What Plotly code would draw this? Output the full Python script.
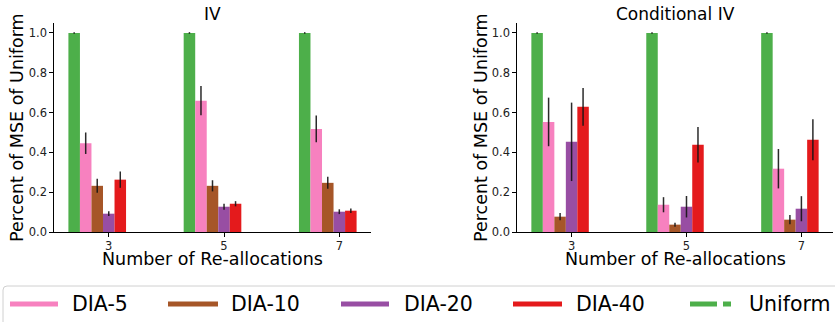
import plotly.graph_objects as go

W, H = 835, 322

groups = [3, 5, 7]
series_names = ["Uniform", "DIA-5", "DIA-10", "DIA-20", "DIA-40"]
series_colors = ["#4daf4a", "#f781bf", "#a65628", "#984ea3", "#e41a1c"]

# IV panel
iv_uniform = [1.0, 1.0, 1.0]
iv_uniform_err = [0.004, 0.004, 0.004]
iv_dia5 = [0.446, 0.660, 0.518]
iv_dia5_err = [0.054, 0.074, 0.067]
iv_dia10 = [0.232, 0.232, 0.247]
iv_dia10_err = [0.035, 0.028, 0.030]
iv_dia20 = [0.092, 0.127, 0.102]
iv_dia20_err = [0.012, 0.015, 0.012]
iv_dia40 = [0.263, 0.142, 0.107]
iv_dia40_err = [0.041, 0.013, 0.011]

# Conditional IV panel
civ_uniform = [1.0, 1.0, 1.0]
civ_uniform_err = [0.004, 0.004, 0.004]
civ_dia5 = [0.553, 0.137, 0.318]
civ_dia5_err = [0.122, 0.038, 0.099]
civ_dia10 = [0.077, 0.037, 0.062]
civ_dia10_err = [0.018, 0.010, 0.023]
civ_dia20 = [0.453, 0.127, 0.117]
civ_dia20_err = [0.197, 0.054, 0.063]
civ_dia40 = [0.629, 0.438, 0.463]
civ_dia40_err = [0.095, 0.089, 0.103]

y_ticks = [0.0, 0.2, 0.4, 0.6, 0.8, 1.0]
panel_titles = ["IV", "Conditional IV"]
x_title = "Number of Re-allocations"
y_title = "Percent of MSE of Uniform"

FONT = "DejaVu Sans"
BAR_W = 0.2
offsets = [-0.7, -0.5, -0.3, -0.1, 0.1]

fig = go.Figure()

panels = [
    ("x", "y", [iv_uniform, iv_dia5, iv_dia10, iv_dia20, iv_dia40],
     [iv_uniform_err, iv_dia5_err, iv_dia10_err, iv_dia20_err, iv_dia40_err]),
    ("x2", "y2", [civ_uniform, civ_dia5, civ_dia10, civ_dia20, civ_dia40],
     [civ_uniform_err, civ_dia5_err, civ_dia10_err, civ_dia20_err, civ_dia40_err]),
]

for xa, ya, vals, errs in panels:
    for name, color, off, v, e in zip(series_names, series_colors, offsets, vals, errs):
        fig.add_trace(go.Bar(
            x=groups, y=v, name=name, xaxis=xa, yaxis=ya,
            width=BAR_W, offset=off,
            marker=dict(color=color, line=dict(width=0)),
            error_y=dict(type="data", array=e, visible=True,
                         color="rgba(20,20,20,0.9)", thickness=1.5, width=0),
            showlegend=False,
        ))

def px_x(p):
    return p / W

def px_y(p):
    return 1 - p / H

ax_common = dict(showgrid=False, zeroline=False, showline=True, linecolor="black",
                 linewidth=1.2, ticks="outside", ticklen=3.5, tickwidth=1,
                 tickcolor="black", automargin=False,
                 tickfont=dict(family=FONT, size=11.5, color="#222"))

y_dom = [px_y(232), px_y(23)]
fig.update_layout(
    template="none",
    width=W, height=H,
    margin=dict(l=0, r=0, t=0, b=0, pad=0),
    paper_bgcolor="white", plot_bgcolor="white",
    barmode="overlay",
    font=dict(family=FONT, color="black"),
    xaxis=dict(domain=[px_x(54), px_x(371)], range=[2.05, 7.55],
               tickvals=groups, ticktext=[str(g) for g in groups], anchor="y", **ax_common),
    yaxis=dict(domain=y_dom, range=[0, 1.05], tickvals=y_ticks,
               ticktext=[f"{t:.1f}" for t in y_ticks], anchor="x", **ax_common),
    xaxis2=dict(domain=[px_x(517), px_x(833)], range=[2.05, 7.55],
                tickvals=groups, ticktext=[str(g) for g in groups], anchor="y2", **ax_common),
    yaxis2=dict(domain=y_dom, range=[0, 1.05], tickvals=y_ticks,
                ticktext=[f"{t:.1f}" for t in y_ticks], anchor="x2", **ax_common),
)

annotations = []
for title, cx, ylab_x in [(panel_titles[0], 212.5, 17), (panel_titles[1], 675.5, 481)]:
    annotations.append(dict(text=title, x=px_x(cx), y=px_y(14), xref="paper", yref="paper",
                            showarrow=False, xanchor="center", yanchor="middle",
                            font=dict(family=FONT, size=17, color="black")))
    annotations.append(dict(text=x_title, x=px_x(cx), y=px_y(259), xref="paper", yref="paper",
                            showarrow=False, xanchor="center", yanchor="middle",
                            font=dict(family=FONT, size=17.5, color="black")))
    annotations.append(dict(text=y_title, x=px_x(ylab_x), y=px_y(128), xref="paper", yref="paper",
                            showarrow=False, xanchor="center", yanchor="middle", textangle=-90,
                            font=dict(family=FONT, size=17.5, color="black")))

# Legend (drawn manually to mimic line-style handles)
shapes = []
r = 4
x0, x1 = 3, 845
y0, y1 = 286, 335
path = (f"M {px_x(x0)},{px_y(y0 + r)} Q {px_x(x0)},{px_y(y0)} {px_x(x0 + r)},{px_y(y0)} "
        f"L {px_x(x1)},{px_y(y0)} L {px_x(x1)},{px_y(y1)} L {px_x(x0)},{px_y(y1)} Z")
shapes.append(dict(type="path", path=path, xref="paper", yref="paper",
                   line=dict(color="#d0d0d0", width=1), fillcolor="white", layer="below"))

legend_order = ["DIA-5", "DIA-10", "DIA-20", "DIA-40", "Uniform"]
legend_line_x = [(10, 58), (168, 218), (341, 389), (513, 562), (690, 731)]
legend_text_x = [72, 231, 404, 576, 749]
ly = 304
for name, (lx0, lx1), tx in zip(legend_order, legend_line_x, legend_text_x):
    color = series_colors[series_names.index(name)]
    if name == "Uniform":
        segs = [(lx0, lx0 + 27), (lx0 + 33, lx1)]
    else:
        segs = [(lx0, lx1)]
    for s0, s1 in segs:
        shapes.append(dict(type="line", xref="paper", yref="paper",
                           x0=px_x(s0), x1=px_x(s1), y0=px_y(ly), y1=px_y(ly),
                           line=dict(color=color, width=5)))
    annotations.append(dict(text=name, x=px_x(tx - 2), y=px_y(ly), xref="paper", yref="paper",
                            showarrow=False, xanchor="left", yanchor="middle",
                            font=dict(family=FONT, size=20.5, color="black")))

fig.update_layout(annotations=annotations, shapes=shapes)

fig.write_html(
    "out.html",
    config={"displayModeBar": False},
    post_script="document.body.style.margin='0px';document.body.style.overflow='hidden';",
)
